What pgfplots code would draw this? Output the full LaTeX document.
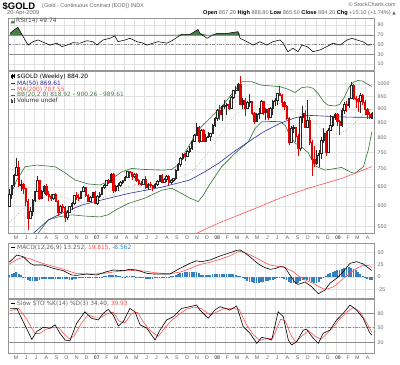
\documentclass[border=0pt]{standalone}
\usepackage{fontspec}
\setmainfont{Liberation Sans}
\newfontfamily\dejavu{DejaVu Sans}
\usepackage{pgfplots}
\usepackage{pgfplotstable}
\pgfplotsset{compat=1.18}

\definecolor{gridc}{RGB}{225,225,225}
\definecolor{framec}{RGB}{150,150,150}
\definecolor{refc}{RGB}{140,140,140}
\definecolor{txtg}{RGB}{100,100,100}
\definecolor{candred}{RGB}{230,0,0}
\definecolor{upcol}{RGB}{40,40,40}
\definecolor{bbgreen}{RGB}{50,115,50}
\definecolor{mablue}{RGB}{45,45,160}
\definecolor{mared}{RGB}{255,80,80}
\definecolor{histblue}{RGB}{50,130,195}
\definecolor{rsigreen}{RGB}{70,125,70}

\newcommand{\tfont}{\fontsize{5.3}{6}\selectfont}
\newcommand{\lfont}{\dejavu\fontsize{5.9}{6}\selectfont}

% candle mark: origin at the high; wick down to the low, body between open and close
\pgfdeclareplotmark{candle}{%
  \ifdim\isup pt>0.5pt
    \pgfsetstrokecolor{upcol}\pgfsetfillcolor{white}%
  \else
    \pgfsetstrokecolor{candred}\pgfsetfillcolor{candred}%
  \fi
  \pgfsetlinewidth{0.45bp}%
  \pgfpathmoveto{\pgfpointorigin}%
  \pgfpathlineto{\pgfpoint{0pt}{-\wlen bp}}%
  \pgfusepath{stroke}%
  \pgfpathrectangle{\pgfpoint{-0.7bp}{-\btop bp}}{\pgfpoint{1.4bp}{-\blen bp}}%
  \pgfusepath{fill,stroke}%
}

\pgfplotstableread{
k o h l c
0 600 644 598 631
1 631 656 618 654
2 654 686 650 681
3 681 732 680 705
4 705 725 650 655
5 655 670 640 658
6 658 660 630 645
7 645 648 600 612
8 612 618 543 570
9 570 598 568 588
10 588 617 575 615
11 615 640 610 638
12 638 680 635 668
13 668 670 615 620
14 620 642 618 637
15 637 655 630 652
16 652 657 625 630
17 630 640 612 625
18 625 630 612 620
19 620 632 615 630
20 630 633 610 612
21 612 614 575 585
22 585 602 582 600
23 600 605 585 597
24 597 601 560 573
25 573 590 565 585
26 585 600 582 598
27 598 610 590 607
28 607 629 603 627
29 627 635 615 623
30 623 631 613 620
31 620 640 618 638
32 638 653 635 648
33 648 650 623 628
34 628 630 610 612
35 612 625 611 622
36 622 636 620 635
37 635 640 605 608
38 608 628 603 625
39 625 635 620 630
40 630 650 628 648
41 648 657 644 655
42 655 670 654 668
43 668 671 658 664
44 664 688 662 686
45 686 690 634 640
46 640 655 636 652
47 652 660 640 655
48 655 665 650 662
49 662 670 658 668
50 668 680 665 678
51 678 696 675 694
52 694 696 675 690
53 690 692 670 680
54 680 688 675 685
55 685 688 663 668
56 668 672 655 660
57 660 666 651 656
58 656 672 655 670
59 670 680 645 650
60 650 660 642 657
61 657 662 648 655
62 655 656 638 650
63 650 660 648 656
64 656 668 652 666
65 666 684 664 682
66 682 686 660 664
67 664 675 660 672
68 672 682 662 680
69 680 682 652 662
70 662 671 658 669
71 669 675 662 674
72 674 700 668 698
73 698 717 696 714
74 714 738 705 734
75 734 748 728 745
76 745 750 725 738
77 738 760 735 756
78 756 772 750 765
79 765 790 758 787
80 787 812 785 808
81 808 848 806 835
82 835 840 780 787
83 787 827 785 823
84 823 828 783 787
85 787 810 785 800
86 800 818 797 803
87 803 815 787 812
88 812 845 810 840
89 840 870 836 866
90 866 900 855 895
91 895 915 860 882
92 882 915 858 912
93 912 937 900 915
94 915 925 878 920
95 920 935 895 905
96 905 952 900 948
97 948 975 940 973
98 973 993 958 975
99 975 1005 970 1001
100 1001 1033 915 920
101 920 945 900 935
102 935 945 875 905
103 905 930 900 925
104 925 958 910 930
105 930 932 880 885
106 885 890 845 855
107 855 885 852 880
108 880 905 864 885
109 885 935 883 930
110 930 931 880 887
111 887 905 860 900
112 900 905 860 870
113 870 910 866 905
114 905 935 878 930
115 930 945 913 933
116 933 965 915 962
117 962 990 950 955
118 955 960 910 926
119 926 930 896 912
120 912 915 860 865
121 865 870 775 785
122 785 838 783 830
123 830 842 815 833
124 833 835 785 805
125 805 810 740 765
126 765 875 755 870
127 870 912 850 885
128 885 895 830 835
129 835 935 830 860
130 860 870 775 785
131 785 792 681 730
132 730 770 705 718
133 718 760 712 741
134 741 760 705 748
135 748 800 730 790
136 790 830 780 815
137 815 820 740 752
138 752 830 750 825
139 825 880 825 840
140 840 875 835 870
141 870 885 860 880
142 880 885 840 855
143 855 860 808 842
144 842 903 835 897
145 897 927 883 920
146 920 930 890 915
147 915 945 905 941
148 941 1007 938 995
149 995 1000 935 942
150 942 950 906 940
151 940 945 890 930
152 930 962 885 955
153 955 960 915 925
154 925 935 880 900
155 900 903 862 880
156 880 890 862 869
157 867 889 865 884
}\candles

\pgfplotstableread{
k v
0 4
1 6
2 8
3 10
4 7
5 4
6 1
7 -2.3
8 -5.7
9 -9
10 -9
11 -9
12 -7.4
13 -5.8
14 -4.1
15 -3.1
16 -3.3
17 -3.5
18 -3.8
19 -4
20 -3.8
21 -3.5
22 -3.3
23 -3.1
24 -3.6
25 -4.4
26 -5.2
27 -6
28 -4.8
29 -3.6
30 -2.8
31 -2
32 -1.2
33 -0.4
34 -0.3
35 -0.9
36 -1.5
37 -2
38 -2.4
39 -1.0
40 0.3
41 1.5
42 2.8
43 3.2
44 3.6
45 4
46 3.2
47 2.3
48 1.5
49 0.6
50 0.9
51 1.7
52 2.5
53 2.0
54 1.4
55 0.7
56 -0.3
57 -1.4
58 -2.4
59 -3.5
60 -3.8
61 -3.5
62 -3.1
63 -2.7
64 -2.2
65 -1.8
66 -1.3
67 -0.9
68 -0.7
69 -0.5
70 1.3
71 3.0
72 4.7
73 6.4
74 7.7
75 8.4
76 9.2
77 9.9
78 10.7
79 10.6
80 10.3
81 10
82 7.5
83 5
84 4.9
85 4.8
86 4.7
87 4.7
88 5.2
89 5.6
90 6.1
91 6.6
92 6.6
93 6.6
94 6.5
95 6.4
96 6.0
97 5.4
98 4
99 3
100 2
101 -2
102 -5
103 -8
104 -10
105 -11
106 -12
107 -12
108 -11.5
109 -11
110 -10
111 -9
112 -8
113 -7
114 -6
115 -5
116 -3
117 -1.5
118 -2
119 -4
120 -7
121 -10
122 -12
123 -13
124 -14
125 -12
126 -9
127 -6
128 -5
129 -6
130 -8
131 -10
132 -12
133 -13
134 -10
135 -5
136 -1
137 3
138 6
139 9
140 11
141 13
142 14
143 15
144 16
145 18
146 19
147 20
148 19
149 17
150 14
151 10
152 6
153 2
154 -1
155 -3.5
156 -5.5
157 -6.6
}\hist

\pgfplotsset{
  panel/.style={
    scale only axis, width=366bp,
    xmin=-0.6, xmax=157.9,
    axis line style={draw=framec, line width=0.5bp},
    xtick={2,6.43,10.71,15.14,19.57,23.86,28.29,32.57,37,41.43,45.43,49.86,54.14,58.57,62.86,67.29,71.71,76,80.43,84.71,89.14,93.57,97.71,102.14,106.43,110.86,115.14,119.57,124,128.29,132.71,137,141.43,145.86,149.86,154.29},
    xticklabels={},
    xmajorgrids, ymajorgrids,
    major grid style={draw=gridc, line width=0.5bp},
    major tick length=0pt,
    yticklabel pos=right,
    yticklabel style={font=\tfont, text=txtg, anchor=west, inner sep=0pt, xshift=3.5bp},
    xticklabel style={font=\tfont, text=txtg, anchor=north, inner sep=0pt, xshift=2bp, yshift=-2.5bp},
    /pgf/number format/assume math mode=true,
  },
  months/.style={xticklabels={M,J,J,A,S,O,N,D,\textbf{07},F,M,A,M,J,J,A,S,O,N,D,\textbf{08},F,M,A,M,J,J,A,S,O,N,D,\textbf{09},F,M,A}},
}

\begin{document}
\begin{tikzpicture}
\path[use as bounding box] (0bp,0bp) rectangle (400bp,365bp);

% ---------------- RSI ----------------
\begin{axis}[panel, at={(8bp,295bp)}, anchor=south west, height=52bp,
  ymin=-2.05, ymax=104.6, ytick={10,30,50,70,90}]
\addplot[fill=rsigreen, draw=none, y filter/.expression={max(y,70)}] coordinates {
(0.27,70) (0.27,73) (2,80) (3.7,85.5) (5.5,70) (8.1,49) (10.2,56) (12.4,59.5) (14.6,55) (17.6,49) (20.6,53) (22.8,46) (24.9,49) (27.5,54) (30.6,53) (33.6,58) (36.2,56) (37.9,49) (40.5,59.5) (43.6,63) (45.7,68) (47,56) (50.1,59.5) (52.2,63) (55.3,56) (57.9,53) (59.6,49) (62.2,53) (64.4,56) (68.2,53) (70.4,58) (72.6,65) (74.7,71) (78.2,71) (79.5,74.5) (81.7,81) (82.5,73) (85.6,63) (88.2,70) (89.9,73) (94.2,73) (99,76.5) (99.9,63) (102.9,56) (105.5,49) (108.5,56) (111.5,49) (114.1,56) (117.2,59.5) (118.5,53) (120.6,35.5) (122.8,42.5) (125,35.5) (126.7,49) (128.9,46) (131.5,35.5) (134.5,39) (137.5,46) (140.1,53) (143.2,49) (146.2,59.5) (148.4,63) (150.5,59.5) (153.1,56) (155.3,49) (157,49.74) (157,70)} -- cycle;
\addplot[refc, line width=0.5bp] coordinates {(-0.6,70) (157.9,70)};
\addplot[refc, line width=0.5bp] coordinates {(-0.6,30) (157.9,30)};
\addplot[refc, line width=0.5bp, dash pattern=on 3bp off 1.5bp on 0.8bp off 1.5bp] coordinates {(-0.6,50) (157.9,50)};
\addplot[black, line width=0.55bp] coordinates {
(0.27,73) (2,80) (3.7,85.5) (5.5,70) (8.1,49) (10.2,56) (12.4,59.5) (14.6,55) (17.6,49) (20.6,53) (22.8,46) (24.9,49) (27.5,54) (30.6,53) (33.6,58) (36.2,56) (37.9,49) (40.5,59.5) (43.6,63) (45.7,68) (47,56) (50.1,59.5) (52.2,63) (55.3,56) (57.9,53) (59.6,49) (62.2,53) (64.4,56) (68.2,53) (70.4,58) (72.6,65) (74.7,71) (78.2,71) (79.5,74.5) (81.7,81) (82.5,73) (85.6,63) (88.2,70) (89.9,73) (94.2,73) (99,76.5) (99.9,63) (102.9,56) (105.5,49) (108.5,56) (111.5,49) (114.1,56) (117.2,59.5) (118.5,53) (120.6,35.5) (122.8,42.5) (125,35.5) (126.7,49) (128.9,46) (131.5,35.5) (134.5,39) (137.5,46) (140.1,53) (143.2,49) (146.2,59.5) (148.4,63) (150.5,59.5) (153.1,56) (155.3,49) (157,49.74)};
\end{axis}

% ---------------- PRICE (log scale: values filtered through ln) ----------------
\begin{axis}[panel, months, at={(8bp,132bp)}, anchor=south west, height=162bp,
  ymin=6.283389, ymax=6.962243,
  y filter/.expression={ln(y)},
  ytick={6.309918,6.396930,6.476972,6.551080,6.620073,6.684612,6.745236,6.802395,6.856462,6.907755},
  yticklabels={550,600,650,700,750,800,850,900,950,1000}]
% Bollinger bands
\addplot[bbgreen, line width=0.6bp] coordinates {
(0,620) (3.2,669) (6.8,707) (12,712) (19.8,707) (24,690) (28.4,669) (34,658) (39.2,655) (42.7,664) (48.6,692) (53,702) (58.7,699) (66,697) (70.3,699) (72.5,710) (74.6,727) (76,750) (78,775) (80.4,808) (83,835) (86.1,860) (91.9,909) (97.7,975) (100.6,1010) (104.9,1010) (109.3,995) (117.2,989) (120.8,978) (123.7,965) (126.6,985) (129.4,988) (131.5,982) (133.8,960) (136,930) (138,915) (141,912) (143,918) (145,945) (147,985) (149,1008) (151,1015) (153,1012) (155,1000) (157,989.6)};
\addplot[bbgreen, line width=0.6bp] coordinates {
(10,520) (12.4,535) (16.9,566) (21.1,573) (27.1,578) (32.7,575) (39.2,573) (42.7,578) (46,590) (51.5,606) (58.7,620) (66,641) (70.3,646) (74.6,632) (78.2,620) (81.8,611) (84,628) (86.1,650) (91.9,707) (97.7,748) (103.5,785) (106.4,830) (109.3,854) (117.2,855) (119.5,840) (121,815) (123.7,780) (126,772) (129.4,750) (132.3,710) (136.7,697) (143.9,705) (148.2,690) (149.7,688) (153.3,707) (155.4,758) (157,819)};
\addplot[bbgreen!80!white, line width=0.5bp, dotted] coordinates {
(0,560) (3,575) (5,588) (8,602) (10,608) (15,622) (20,628) (25,620) (30,607) (35,612) (37.1,615) (44,628) (51.5,650) (58,662) (66,664) (72,670) (78.2,688) (82,715) (86.1,748) (90,795) (94.8,848) (98,880) (102,903) (109.3,915) (117.2,922) (121,901) (123.7,890) (126,881) (130,871) (133.8,840) (137,812) (143,811) (148,836) (152.5,875) (157,900.3)};
% moving averages
\addplot[mablue, line width=0.6bp] coordinates {
(8,525) (10.4,535) (16.9,566) (22.7,582) (31.3,602) (37.1,611) (51.5,632) (66,649) (78.2,669) (84,690) (90.5,717) (97,752) (103.5,785) (110,818) (117.2,848) (123.7,868) (129.3,877) (136.7,874) (143.9,871) (150,870) (157,869.6)};
\addplot[mared, line width=0.6bp] coordinates {
(79,530) (81.1,535) (90.5,558) (104.9,590) (117.2,620) (129.3,646) (143.9,673) (157,707.6)};
% candles (238.64 bp per unit of ln(price) on this axis)
\addplot[only marks, scatter, mark=candle,
  visualization depends on={238.64*ln(\thisrow{h}/\thisrow{l}) \as \wlen},
  visualization depends on={238.64*ln(\thisrow{h}/max(\thisrow{o},\thisrow{c})) \as \btop},
  visualization depends on={238.64*abs(ln(\thisrow{o}/\thisrow{c})) \as \blen},
  visualization depends on={ifthenelse(\thisrow{c}>=\thisrow{o},1,0) \as \isup}]
  table[x=k, y=h] {\candles};
\end{axis}

% ---------------- MACD ----------------
\begin{axis}[panel, at={(8bp,67bp)}, anchor=south west, height=54.7bp,
  ymin=-42.7, ymax=68.5, ytick={-25,0,25,50}]
\addplot[ycomb, histblue, line width=1.8bp] table[x=k, y=v] {\hist};
\addplot[mared, line width=0.6bp] coordinates {
(0,26) (3,35) (6,40.3) (9,37) (11,33) (14.7,27.4) (19,21.6) (23.3,16) (27,10) (29.1,7) (33.5,6.1) (37.8,6.5) (42,8) (45,10.2) (49.3,12.5) (52.2,13) (55,13.5) (59.5,11.5) (62.3,9.1) (66.6,7.1) (69.5,6.5) (73.9,10) (78.2,17) (81.1,23) (83,26) (86.9,30) (91.2,36) (95.5,43) (98.4,50) (99.9,52) (102,49) (104.2,45) (106.4,40) (108.5,34.6) (110.7,29) (112.9,24.4) (115.5,22) (118.6,21) (120.8,16) (122.9,10.8) (125,3) (127.3,-4) (129.5,-9) (131.6,-13) (133.8,-19) (135.9,-24) (138,-24) (140.3,-20) (142.5,-12) (144.6,-3) (146.8,5) (148.9,13) (151,19) (153.3,24) (155.5,23) (157,19.8)};
\addplot[black, line width=0.6bp] coordinates {
(0,30) (3.2,44.7) (6,41.3) (8.9,28) (10.4,24.4) (14.7,24.4) (19,17.6) (23.3,12.9) (27,4) (29.1,3.4) (33.5,6.1) (37.8,4) (42.1,10.8) (45,14.2) (49.3,12.9) (52.2,15.6) (55.1,14.2) (59.5,7.5) (62.3,6.1) (66.6,6.1) (69.5,6.1) (73.9,17.6) (78.2,27.8) (81.1,33) (83,31) (86.9,34.6) (91.2,42.7) (95.5,49.4) (98.4,54) (99.9,55) (102,49) (104.2,41) (106.4,32) (108.5,24.4) (110.7,19) (112.9,15.6) (115,17) (117.2,21) (119.3,19.7) (121.5,4) (123.5,-10) (125,-15) (126.6,-12.8) (128,-10) (130.9,-19.7) (133.8,-34) (136.7,-26.4) (138.8,-12.8) (141.7,-2.6) (144.6,10.8) (147.5,27.8) (150.4,31.1) (153.3,26.4) (156.2,15.6) (157,13.25)};
\end{axis}

% ---------------- STO ----------------
\begin{axis}[panel, months, at={(8bp,12bp)}, anchor=south west, height=54bp,
  ymin=-2.3, ymax=109.5, ytick={20,50,80}]
\addplot[refc, line width=0.5bp] coordinates {(-0.6,80) (157.9,80)};
\addplot[refc, line width=0.5bp] coordinates {(-0.6,20) (157.9,20)};
\addplot[refc, line width=0.5bp, dash pattern=on 3bp off 1.5bp on 0.8bp off 1.5bp] coordinates {(-0.6,50) (157.9,50)};
\addplot[mared, line width=0.6bp] coordinates {
(0.3,85) (4,90) (7.5,68) (11,38) (13,38) (16,47) (19,51) (21.5,50) (23.5,38) (26,27) (28,33) (31,58) (34,76) (37,72) (40,72) (42.5,80) (45,82) (47.5,64) (50,60) (53,80) (55.5,82) (58,62) (61,44) (64.5,32) (67,48) (70,64) (73,76) (76.5,88) (80,93) (83,90) (87,76) (90,83) (93,90) (96.5,90) (99.5,88) (102.5,58) (105.5,36) (108.5,24) (111,27) (114,28) (117.5,68) (119.5,64) (122,34) (124,20) (126,30) (129.5,44) (132.5,32) (135,26) (137.5,38) (140.5,52) (143,68) (146,82) (149,92) (152,82) (155,58) (157,39.93)};
\addplot[black, line width=0.6bp] coordinates {
(0.3,90) (3.2,90) (6,62.5) (9.7,26) (11.8,42) (14.7,51) (17.6,49) (19.8,56) (21.9,38.5) (24.1,24.6) (26.2,23) (29.1,59) (32.7,83) (35.6,69.6) (38.5,66) (40.7,80) (42.8,88) (45,76) (47.2,53.6) (49.3,62.5) (52.2,90) (54.4,83) (56.6,56) (59.5,49) (63.1,24.6) (65.2,45) (68.1,66) (71,73) (74.6,90) (78.2,93.6) (81.1,97) (82.5,86.7) (86.1,69.6) (89,86.7) (91.2,93.6) (95.5,86.7) (98.4,95) (101.3,52) (104.2,38.5) (107.1,17.8) (109.3,30) (111.4,28) (113.6,24.6) (116.4,83) (118.6,73) (120.8,24.6) (122.2,14.3) (124.4,21) (127.3,45) (128.7,47) (131.6,28) (133.8,17.8) (135.9,38.5) (138.8,45) (141.7,66) (144.6,80) (147.5,97) (150.4,86.7) (153.2,69.6) (156,40) (157,34.4)};
\end{axis}

% ---------------- texts ----------------
\begin{scope}[x=1bp,y=1bp]
\node[anchor=west, inner sep=0pt, font=\bfseries\fontsize{9.5}{10}\selectfont] at (2.5,359) {\$GOLD};
\node[anchor=west, inner sep=0pt, font=\fontsize{5.5}{6}\selectfont, text=txtg] at (42,359) {(Gold - Continuous Contract (EOD)) INDX};
\node[anchor=west, inner sep=0pt, font=\fontsize{5.8}{6}\selectfont, text=txtg] at (7,352) {20-Apr-2009};
\node[anchor=east, inner sep=0pt, font=\fontsize{5.5}{6}\selectfont, text=txtg] at (396,360.5) {\textcopyright\ StockCharts.com};
\node[anchor=east, inner sep=0pt, font=\fontsize{5.6}{6}\selectfont, text=txtg] at (396,352) {{\color{black}\bfseries Open} 867.20 {\color{black}\bfseries High} 888.80 {\color{black}\bfseries Low} 865.50 {\color{black}\bfseries Close} 884.20 {\color{black}\bfseries Chg} +15.10 (+1.74\%) {\dejavu\fontsize{4.5}{5}\selectfont ▲}};

% RSI label
\fill[rsigreen] (10.5,341.5) -- (12,344.5) -- (13,343) -- (14.5,345.5) -- (14.5,341.5) -- cycle;
\node[anchor=west, inner sep=0pt, font=\lfont, text=txtg!80!black] at (16,344) {RSI(14) 49.74};

% price legend
\draw[black, line width=0.4bp] (12,286) -- (12,291);
\fill[black] (11.2,287) rectangle (12.8,290);
\draw[black, line width=0.4bp] (14,286.5) -- (14,290.5);
\fill[black] (13.2,287.5) rectangle (14.8,289.5);
\node[anchor=west, inner sep=0pt, font=\lfont] at (17,288.3) {\$GOLD (Weekly) 884.20};
\draw[mablue, line width=0.9bp] (10.5,281.7) -- (15,281.7);
\node[anchor=west, inner sep=0pt, font=\lfont, text=mablue] at (17,281.7) {MA(50) 869.61};
\draw[mared, line width=0.9bp] (10.5,275.7) -- (15,275.7);
\node[anchor=west, inner sep=0pt, font=\lfont, text=mared] at (17,275.7) {MA(200) 707.55};
\draw[bbgreen, line width=0.9bp] (10.5,270) -- (15,270);
\node[anchor=west, inner sep=0pt, font=\lfont, text=bbgreen!70!gray] at (17,270) {BB(20,2.0) 818.92 - 900.26 - 989.61};
\fill[black!70] (10.8,262.3) rectangle (11.8,266.3);
\fill[black!70] (12.3,262.3) rectangle (13.3,265.3);
\fill[black!70] (13.8,262.3) rectangle (14.8,266.8);
\node[anchor=west, inner sep=0pt, font=\lfont, text=black!80] at (17,264.3) {Volume undef};

% MACD label
\draw[black, line width=0.9bp] (10.5,117.7) -- (15,117.7);
\node[anchor=west, inner sep=0pt, font=\lfont, text=txtg] at (17,117.7) {MACD(12,26,9) 13.252, {\color{mared}19.815}, {\color{histblue}-6.562}};

% STO label
\draw[black, line width=0.9bp] (10.5,61.5) -- (15,61.5);
\node[anchor=west, inner sep=0pt, font=\lfont, text=txtg] at (17,61.5) {Slow STO \%K(14) \%D(3) 34.40, {\color{mared}39.93}};
\end{scope}
\end{tikzpicture}
\end{document}
